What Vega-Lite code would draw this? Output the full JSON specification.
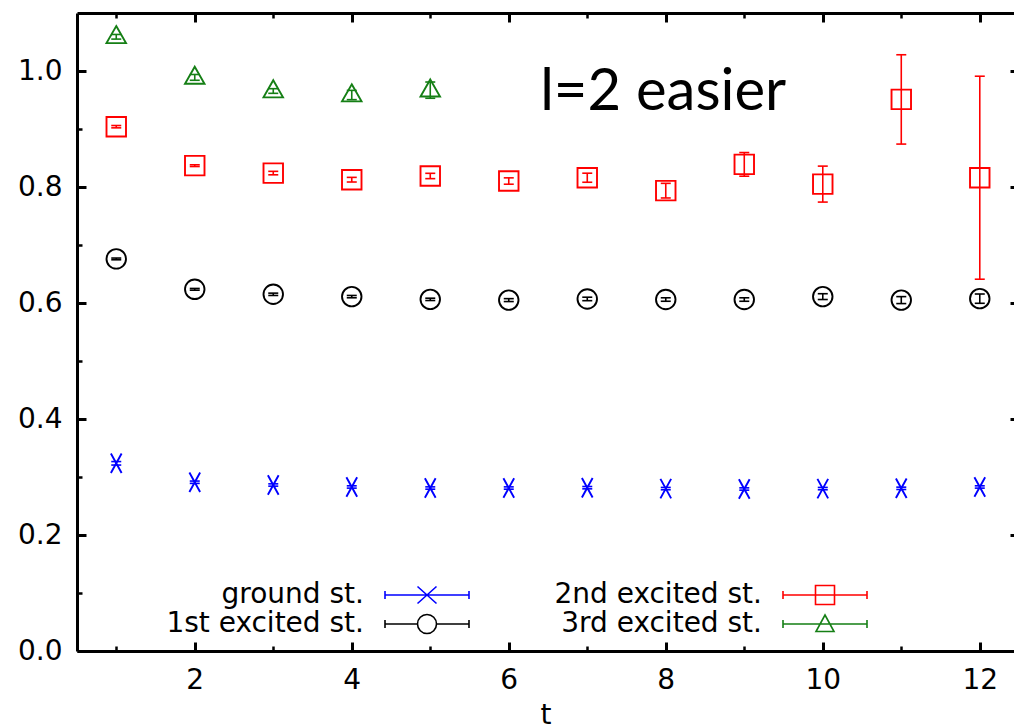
{
  "$schema": "https://vega.github.io/schema/vega-lite/v6.json",
  "width": 937,
  "height": 638,
  "autosize": {"type": "none"},
  "padding": {"left": 77, "top": 13, "right": 0, "bottom": 75},
  "background": "white",
  "config": {
    "view": {"stroke": null},
    "font": "DejaVu Sans",
    "axis": {
      "grid": false,
      "domainColor": "black",
      "tickColor": "black",
      "labelColor": "black",
      "titleColor": "black",
      "labelFont": "DejaVu Sans",
      "titleFont": "DejaVu Sans",
      "labelFontSize": 28,
      "titleFontSize": 28,
      "titleFontWeight": "normal",
      "labelFlush": false,
      "labelOverlap": false
    }
  },
  "data": {
    "values": [
      {"s": "ground st.", "t": 1, "E": 0.3236, "lo": 0.3206, "hi": 0.3266},
      {"s": "ground st.", "t": 2, "E": 0.291, "lo": 0.289, "hi": 0.293},
      {"s": "ground st.", "t": 3, "E": 0.2862, "lo": 0.2842, "hi": 0.2882},
      {"s": "ground st.", "t": 4, "E": 0.2828, "lo": 0.2808, "hi": 0.2848},
      {"s": "ground st.", "t": 5, "E": 0.281, "lo": 0.279, "hi": 0.283},
      {"s": "ground st.", "t": 6, "E": 0.281, "lo": 0.279, "hi": 0.283},
      {"s": "ground st.", "t": 7, "E": 0.2816, "lo": 0.2796, "hi": 0.2836},
      {"s": "ground st.", "t": 8, "E": 0.28, "lo": 0.278, "hi": 0.282},
      {"s": "ground st.", "t": 9, "E": 0.2793, "lo": 0.2773, "hi": 0.2813},
      {"s": "ground st.", "t": 10, "E": 0.28, "lo": 0.278, "hi": 0.282},
      {"s": "ground st.", "t": 11, "E": 0.2805, "lo": 0.2785, "hi": 0.2825},
      {"s": "ground st.", "t": 12, "E": 0.2828, "lo": 0.2808, "hi": 0.2848},
      {"s": "1st excited st.", "t": 1, "E": 0.676, "lo": 0.6745, "hi": 0.6775},
      {"s": "1st excited st.", "t": 2, "E": 0.6236, "lo": 0.6221, "hi": 0.6251},
      {"s": "1st excited st.", "t": 3, "E": 0.615, "lo": 0.613, "hi": 0.617},
      {"s": "1st excited st.", "t": 4, "E": 0.611, "lo": 0.609, "hi": 0.613},
      {"s": "1st excited st.", "t": 5, "E": 0.6063, "lo": 0.6043, "hi": 0.6083},
      {"s": "1st excited st.", "t": 6, "E": 0.605, "lo": 0.6025, "hi": 0.6075},
      {"s": "1st excited st.", "t": 7, "E": 0.607, "lo": 0.604, "hi": 0.61},
      {"s": "1st excited st.", "t": 8, "E": 0.606, "lo": 0.603, "hi": 0.609},
      {"s": "1st excited st.", "t": 9, "E": 0.606, "lo": 0.603, "hi": 0.609},
      {"s": "1st excited st.", "t": 10, "E": 0.611, "lo": 0.606, "hi": 0.616},
      {"s": "1st excited st.", "t": 11, "E": 0.605, "lo": 0.599, "hi": 0.611},
      {"s": "1st excited st.", "t": 12, "E": 0.6075, "lo": 0.5995, "hi": 0.6155},
      {"s": "2nd excited st.", "t": 1, "E": 0.904, "lo": 0.902, "hi": 0.906},
      {"s": "2nd excited st.", "t": 2, "E": 0.8368, "lo": 0.8353, "hi": 0.8383},
      {"s": "2nd excited st.", "t": 3, "E": 0.824, "lo": 0.821, "hi": 0.827},
      {"s": "2nd excited st.", "t": 4, "E": 0.8126, "lo": 0.8086, "hi": 0.8166},
      {"s": "2nd excited st.", "t": 5, "E": 0.819, "lo": 0.8144, "hi": 0.8236},
      {"s": "2nd excited st.", "t": 6, "E": 0.8103, "lo": 0.8048, "hi": 0.8158},
      {"s": "2nd excited st.", "t": 7, "E": 0.816, "lo": 0.8082, "hi": 0.8238},
      {"s": "2nd excited st.", "t": 8, "E": 0.7937, "lo": 0.7811, "hi": 0.8063},
      {"s": "2nd excited st.", "t": 9, "E": 0.839, "lo": 0.8186, "hi": 0.8594},
      {"s": "2nd excited st.", "t": 10, "E": 0.805, "lo": 0.774, "hi": 0.836},
      {"s": "2nd excited st.", "t": 11, "E": 0.951, "lo": 0.874, "hi": 1.028},
      {"s": "2nd excited st.", "t": 12, "E": 0.816, "lo": 0.641, "hi": 0.991},
      {"s": "3rd excited st.", "t": 1, "E": 1.059, "lo": 1.055, "hi": 1.063},
      {"s": "3rd excited st.", "t": 2, "E": 0.989, "lo": 0.984, "hi": 0.994},
      {"s": "3rd excited st.", "t": 3, "E": 0.9655, "lo": 0.9615, "hi": 0.9695},
      {"s": "3rd excited st.", "t": 4, "E": 0.9586, "lo": 0.9506, "hi": 0.9666},
      {"s": "3rd excited st.", "t": 5, "E": 0.967, "lo": 0.953, "hi": 0.981}
    ]
  },
  "resolve": {"axis": {"x": "independent", "y": "independent"}},
  "encoding": {
    "color": {
      "field": "s",
      "type": "nominal",
      "scale": {
        "domain": ["ground st.", "1st excited st.", "2nd excited st.", "3rd excited st."],
        "range": ["#0000ff", "#000000", "#ff0000", "#157f15"]
      },
      "legend": {
        "title": null,
        "orient": "none",
        "legendX": 336,
        "legendY": 568,
        "columns": 2,
        "columnPadding": 81,
        "rowPadding": 1,
        "padding": 0,
        "symbolSize": 400,
        "symbolStrokeWidth": 1.6,
        "symbolFillColor": "transparent",
        "symbolOpacity": 1,
        "labelFont": "DejaVu Sans",
        "labelFontSize": 28,
        "labelColor": "black",
        "labelAlign": "right",
        "labelOffset": -77,
        "labelLimit": 0
      }
    }
  },
  "layer": [
    {
      "mark": {"type": "rule", "strokeWidth": 1.6},
      "encoding": {
        "x": {
          "field": "t", "type": "quantitative",
          "scale": {"domain": [0.5, 12.436], "nice": false, "zero": false},
          "axis": {"orient": "bottom", "values": [2, 4, 6, 8, 10, 12], "tickSize": -9, "tickWidth": 3, "domainWidth": 3, "labelPadding": 24, "title": "t", "titlePadding": 7}
        },
        "y": {
          "field": "lo", "type": "quantitative",
          "scale": {"domain": [0, 1.1], "nice": false, "zero": false},
          "axis": {"orient": "left", "values": [0, 0.2, 0.4, 0.6, 0.8, 1.0], "format": ".1f", "tickSize": -9, "tickWidth": 3, "domainWidth": 3, "labelPadding": 24, "title": null}
        },
        "y2": {"field": "hi"}
      }
    },
    {
      "mark": {"type": "point", "shape": "M-1,0H1", "size": 100, "filled": false, "strokeWidth": 1.6, "opacity": 1},
      "encoding": {
        "x": {
          "field": "t", "type": "quantitative",
          "axis": {"orient": "bottom", "values": [1, 3, 5, 7, 9, 11], "tickSize": -5, "tickWidth": 2.5, "domain": false, "labels": false, "title": null}
        },
        "y": {
          "field": "lo", "type": "quantitative",
          "axis": {"orient": "left", "values": [0.1, 0.3, 0.5, 0.7, 0.9], "tickSize": -5, "tickWidth": 2.5, "domain": false, "labels": false, "title": null}
        }
      }
    },
    {
      "mark": {"type": "point", "shape": "M-1,0H1", "size": 100, "filled": false, "strokeWidth": 1.6, "opacity": 1},
      "encoding": {
        "x": {
          "field": "t", "type": "quantitative",
          "axis": {"orient": "top", "values": [2, 4, 6, 8, 10, 12], "tickSize": -9, "tickWidth": 3, "domainWidth": 3, "labels": false, "title": null}
        },
        "y": {
          "field": "hi", "type": "quantitative",
          "axis": {"orient": "right", "offset": 5, "values": [0, 0.2, 0.4, 0.6, 0.8, 1.0], "tickSize": -9, "tickWidth": 3, "domain": false, "labels": false, "title": null}
        }
      }
    },
    {
      "mark": {"type": "point", "size": 380, "filled": false, "strokeWidth": 1.6, "opacity": 0},
      "encoding": {
        "x": {
          "field": "t", "type": "quantitative",
          "axis": {"orient": "top", "values": [1, 3, 5, 7, 9, 11], "tickSize": -5, "tickWidth": 2.5, "domain": false, "labels": false, "title": null}
        },
        "y": {
          "field": "E", "type": "quantitative",
          "axis": {"orient": "right", "offset": 5, "values": [0.1, 0.3, 0.5, 0.7, 0.9], "tickSize": -5, "tickWidth": 2.5, "domain": false, "labels": false, "title": null}
        },
        "shape": {
          "field": "s",
          "type": "nominal",
          "scale": {
            "domain": ["ground st.", "1st excited st.", "2nd excited st.", "3rd excited st."],
            "range": [
              "M-4.2,0H4.2M-4.2,-0.4V0.4M4.2,-0.4V0.4M-0.95,-0.85L0.95,0.85M-0.95,0.85L0.95,-0.85",
              "M-4.2,0H-0.95M0.95,0H4.2M-4.2,-0.4V0.4M4.2,-0.4V0.4M0.95,0A0.95,0.95,0,1,1,-0.95,0A0.95,0.95,0,1,1,0.95,0Z",
              "M-4.2,0H4.2M-4.2,-0.4V0.4M4.2,-0.4V0.4M-0.95,-0.95H0.95V0.95H-0.95Z",
              "M-4.2,0H4.2M-4.2,-0.4V0.4M4.2,-0.4V0.4M0,-0.9L0.9,0.75L-0.9,0.75Z"
            ]
          },
          "legend": null
        }
      }
    },
    {
      "transform": [{"filter": {"field": "s", "equal": "ground st."}}],
      "mark": {"type": "point", "shape": "M-0.55,-1L0.55,1M-0.55,1L0.55,-1", "size": 380, "filled": false, "strokeWidth": 1.9, "opacity": 1},
      "encoding": {
        "x": {"field": "t", "type": "quantitative", "axis": null},
        "y": {"field": "E", "type": "quantitative", "axis": null}
      }
    },
    {
      "transform": [{"filter": {"field": "s", "equal": "1st excited st."}}],
      "mark": {"type": "point", "shape": "M1,0A1,1,0,1,1,-1,0A1,1,0,1,1,1,0Z", "size": 380, "filled": false, "strokeWidth": 1.9, "opacity": 1},
      "encoding": {
        "x": {"field": "t", "type": "quantitative", "axis": null},
        "y": {"field": "E", "type": "quantitative", "axis": null}
      }
    },
    {
      "transform": [{"filter": {"field": "s", "equal": "2nd excited st."}}],
      "mark": {"type": "point", "shape": "M-1,-1H1V1H-1Z", "size": 380, "filled": false, "strokeWidth": 1.9, "opacity": 1},
      "encoding": {
        "x": {"field": "t", "type": "quantitative", "axis": null},
        "y": {"field": "E", "type": "quantitative", "axis": null}
      }
    },
    {
      "transform": [{"filter": {"field": "s", "equal": "3rd excited st."}}],
      "mark": {"type": "point", "shape": "M0,-1.1L1,0.65L-1,0.65Z", "size": 380, "filled": false, "strokeWidth": 1.9, "opacity": 1},
      "encoding": {
        "x": {"field": "t", "type": "quantitative", "axis": null},
        "y": {"field": "E", "type": "quantitative", "axis": null}
      }
    },
    {
      "data": {"values": [{"label": "l=2 easier"}]},
      "mark": {"type": "text", "font": "Lato", "fontSize": 58, "align": "left", "baseline": "alphabetic"},
      "encoding": {
        "x": {"datum": 6.4, "type": "quantitative", "axis": null},
        "y": {"datum": 0.9335, "type": "quantitative", "axis": null},
        "text": {"field": "label"},
        "color": {"value": "black"}
      }
    }
  ]
}
